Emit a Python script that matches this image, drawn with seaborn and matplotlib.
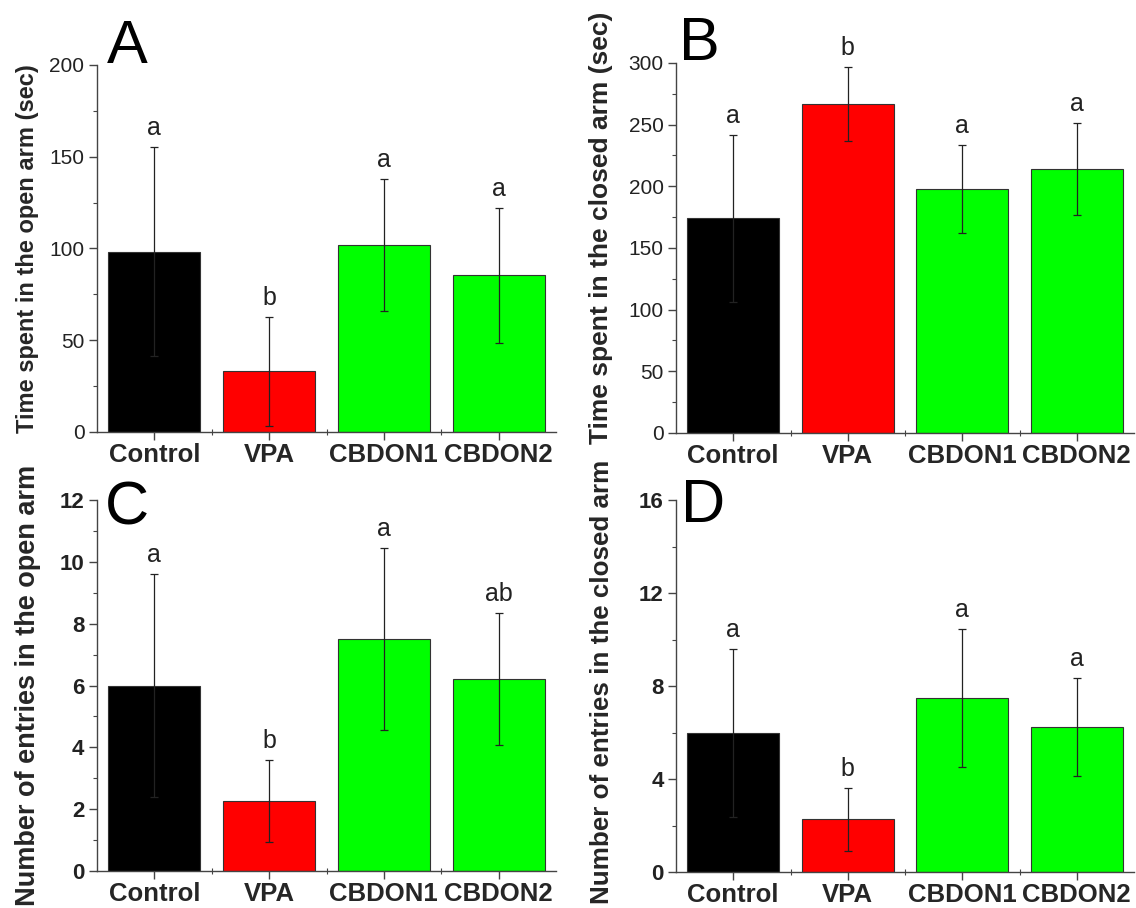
import matplotlib
matplotlib.use("Agg")
import matplotlib.pyplot as plt
from matplotlib.ticker import MultipleLocator, FixedLocator
import seaborn as sns

# -------------------------------------------------------------
# Podaci (ocitani sa slike)
# -------------------------------------------------------------
groups = ["Control", "VPA", "CBDON1", "CBDON2"]
bar_colors = ["#000000", "#ff0000", "#00ff00", "#00ff00"]

open_time_mean = [98.3, 33.0, 101.8, 85.3]
open_time_sd = [57.0, 29.5, 36.0, 37.0]
open_time_letters = ["a", "b", "a", "a"]

closed_time_mean = [174.0, 267.0, 198.0, 214.0]
closed_time_sd = [67.5, 30.0, 35.5, 37.0]
closed_time_letters = ["a", "b", "a", "a"]

open_entries_mean = [6.0, 2.27, 7.5, 6.22]
open_entries_sd = [3.6, 1.33, 2.95, 2.14]
open_entries_letters = ["a", "b", "a", "ab"]

closed_entries_mean = [5.97, 2.26, 7.5, 6.24]
closed_entries_sd = [3.62, 1.34, 2.97, 2.12]
closed_entries_letters = ["a", "b", "a", "a"]

sns.set_style("ticks")
plt.rcParams["font.family"] = ["Liberation Sans", "DejaVu Sans"]

fig = plt.figure(figsize=(11.36, 9.08), dpi=100)

W, H = 1136, 908


def make_ax(left, right, top, bottom):
    return fig.add_axes([left / W, 1 - bottom / H, (right - left) / W, (bottom - top) / H])


ax_a = make_ax(97, 556, 65, 432)
ax_b = make_ax(676, 1134, 63, 433)
ax_c = make_ax(97, 556, 500, 871)
ax_d = make_ax(676, 1134, 500, 872)

# (osa, srednje vrednosti, SD, slova, oznaka panela, y labela, ymax, korak,
#  bold y tikovi, velicina y tikova, velicina y labele, pozicija labele, pozicija oznake)
panels = [
    (ax_a, open_time_mean, open_time_sd, open_time_letters, "A",
     "Time spent in the open arm (sec)", 200, 50, False, 15, 17, (-0.127, 0.5), (0.022, 1.005)),
    (ax_b, closed_time_mean, closed_time_sd, closed_time_letters, "B",
     "Time spent in the closed arm (sec)", 300, 50, False, 15, 19, (-0.138, 0.555), (0.006, 1.008)),
    (ax_c, open_entries_mean, open_entries_sd, open_entries_letters, "C",
     "Number of entries in the open arm", 12, 2, True, 16, 19.5, (-0.122, 0.5), (0.018, 0.933)),
    (ax_d, closed_entries_mean, closed_entries_sd, closed_entries_letters, "D",
     "Number of entries in the closed arm", 16, 4, True, 16, 18.7, (-0.135, 0.512), (0.012, 0.941)),
]

for (ax, means, sds, letters, tag, ylabel, ymax, step, bold_y, ytick_fs,
     ylab_fs, lab_xy, tag_xy) in panels:
    sns.barplot(x=groups, y=means, hue=groups, palette=bar_colors, legend=False,
                ax=ax, width=0.8, edgecolor="#333333", linewidth=0.8, saturation=1)
    ax.errorbar(range(len(groups)), means, yerr=sds, fmt="none",
                ecolor="#222222", elinewidth=0.9, capsize=3, capthick=0.9)
    for i, (m, s, t) in enumerate(zip(means, sds, letters)):
        ax.annotate(t, xy=(i, m + s), xytext=(0, 5), textcoords="offset points",
                    ha="center", va="bottom", fontsize=18, color="#222222")

    ax.set_xlim(-0.5, 3.5)
    ax.set_ylim(0, ymax)
    ax.yaxis.set_major_locator(MultipleLocator(step))
    ax.yaxis.set_minor_locator(MultipleLocator(step / 2))
    ax.xaxis.set_minor_locator(FixedLocator([0.5, 1.5, 2.5]))
    ax.set_xlabel("")
    ax.set_ylabel(ylabel, fontsize=ylab_fs, fontweight="bold")
    ax.yaxis.set_label_coords(*lab_xy)

    sns.despine(ax=ax)
    for sp in ["left", "bottom"]:
        ax.spines[sp].set_color("#444444")
        ax.spines[sp].set_linewidth(1.0)
    ax.tick_params(axis="both", which="major", direction="out", length=6,
                   width=1, color="#444444")
    ax.tick_params(axis="both", which="minor", direction="out", length=3,
                   width=0.8, color="#444444")
    ax.tick_params(axis="x", which="minor", direction="inout", length=5)
    ax.tick_params(axis="x", labelsize=18.5, pad=2)
    ax.tick_params(axis="y", labelsize=ytick_fs, pad=3)
    for lab in ax.get_xticklabels():
        lab.set_fontweight("bold")
    for lab in ax.get_yticklabels():
        lab.set_fontweight("bold" if bold_y else "normal")
        lab.set_color("#222222")

    ax.text(tag_xy[0], tag_xy[1], tag, transform=ax.transAxes, fontsize=44,
            ha="left", va="baseline", color="black")

fig.savefig("out.png", dpi=100)
